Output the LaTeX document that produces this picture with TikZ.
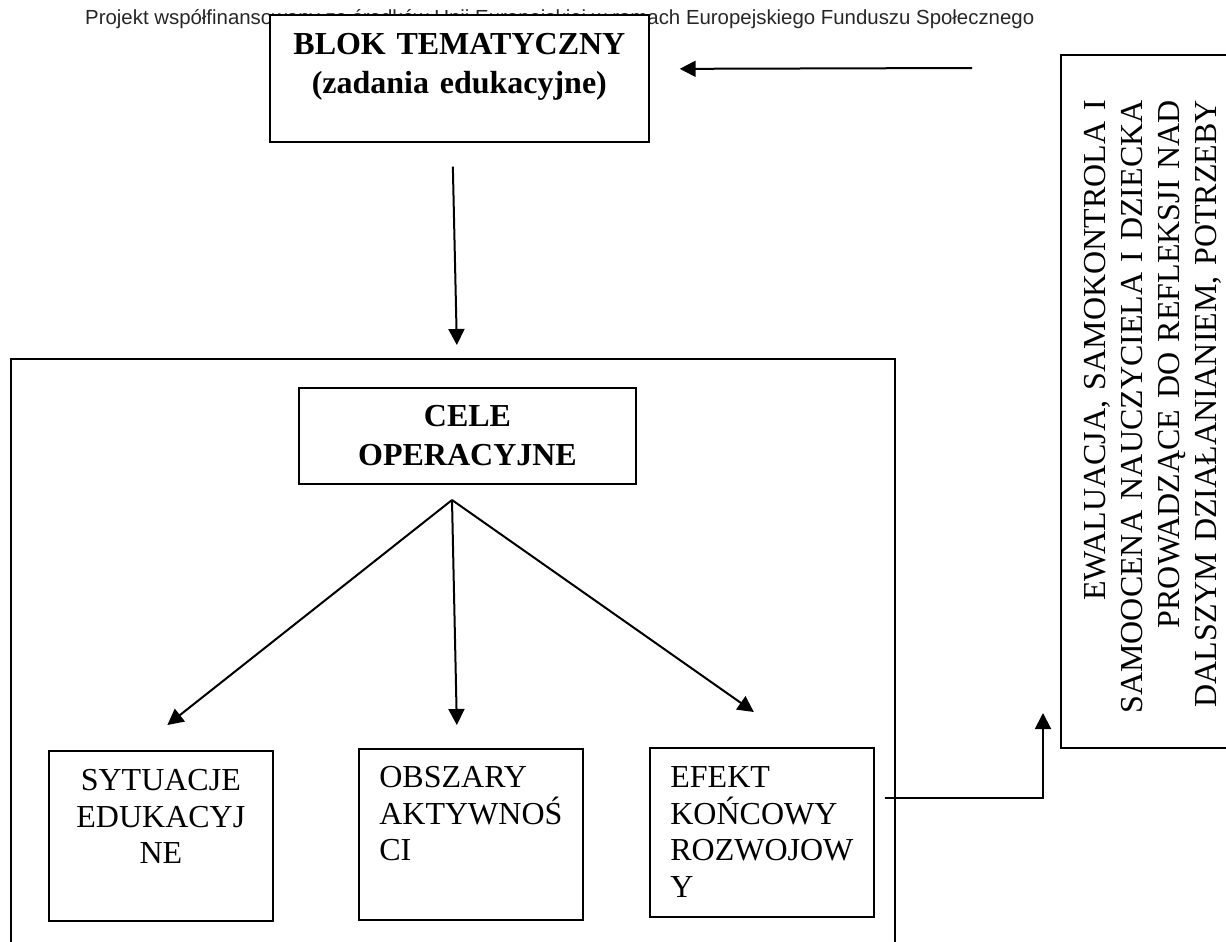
\documentclass[tikz,border=0pt]{standalone}
\usepackage{fontspec}
\setmainfont{Liberation Serif}
\newfontfamily\headfont{Liberation Sans}
\usetikzlibrary{arrows.meta}
\hyphenpenalty=10000
\exhyphenpenalty=10000

\begin{document}
\begin{tikzpicture}[
    x=1pt, y=-1pt,
    box/.style={draw, line width=1.7pt, inner sep=0pt},
    heading/.style={font=\bfseries\fontsize{32}{39}\selectfont, align=center},
    item/.style={box, font=\fontsize{32}{36.5}\selectfont, inner xsep=20.5pt, text width=183pt, anchor=north west},
    arr/.style={-{Triangle[length=16pt, width=16pt]}, line width=2pt}
  ]
  \useasboundingbox (0,0) rectangle (1226,942);
  \clip (0,0) rectangle (1226,942);

  % nagłówek strony
  \node[font=\headfont\fontsize{20.4}{24}\selectfont, text=black!85, anchor=base west, inner sep=0pt] (header) at (85,25)
    {Projekt współfinansowany ze środków Unii Europejskiej w ramach Europejskiego Funduszu Społecznego};

  % bloki
  \node[box, heading, fill=white, anchor=north west, text width=379pt, text height=40pt, text depth=87pt] (blok) at (269,14)
    {BLOK TEMATYCZNY\\(zadania edukacyjne)};
  \node[box, minimum width=884pt, minimum height=700pt, anchor=north west] (stage) at (10,358) {};
  \node[box, heading, minimum width=337pt, minimum height=96pt] (cele) at (467.5,436) {CELE\\OPERACYJNE};

  \node[item, align=center, text height=40pt, text depth=130pt] (sytuacje) at (48,750) {SYTUACJE\\EDUKACYJ\\NE};
  \node[item, align=left, text height=39pt, text depth=132pt] (obszary) at (358,748) {OBSZARY\\AKTYWNOŚ\\CI};
  \node[item, align=left, text height=40pt, text depth=129pt] (efekt) at (649,747) {EFEKT\\KOŃCOWY\\ROZWOJOW\\Y};

  % ewaluacja
  \node[box, line width=2pt, minimum width=220pt, minimum height=693pt, anchor=north west] (eval) at (1060,54) {};
  \node[rotate=90, font=\fontsize{32}{37}\selectfont, text width=640pt, align=right, inner sep=0pt, anchor=base east] (evaltxt) at (1105,100)
    {EWALUACJA, SAMOKONTROLA I\\SAMOOCENA NAUCZYCIELA I DZIECKA\\PROWADZĄCE DO REFLEKSJI NAD\hspace*{18pt}\\DALSZYM DZIAŁANIANIEM, POTRZEBY};

  % strzałki
  \coordinate (fork) at (452,500);
  \coordinate (fbtail) at (972,68);
  \coordinate (evalin) at (1043,713);
  \draw[arr] (fbtail) -- ([shift={(30pt,9.5pt)}]blok.east);
  \draw[arr] ([shift={(-6.5pt,-24pt)}]blok.south) -- ([shift={(4pt,13pt)}]stage.north);
  \draw[arr] (fork) -- ([shift={(6.5pt,25pt)}]sytuacje.north);
  \draw[arr] (fork) -- ([shift={(-14pt,23pt)}]obszary.north);
  \draw[arr] (fork) -- ([shift={(-8pt,35pt)}]efekt.north);
  \draw[arr] ([shift={(10pt,34.5pt)}]efekt.east) -| (evalin);
\end{tikzpicture}
\end{document}
